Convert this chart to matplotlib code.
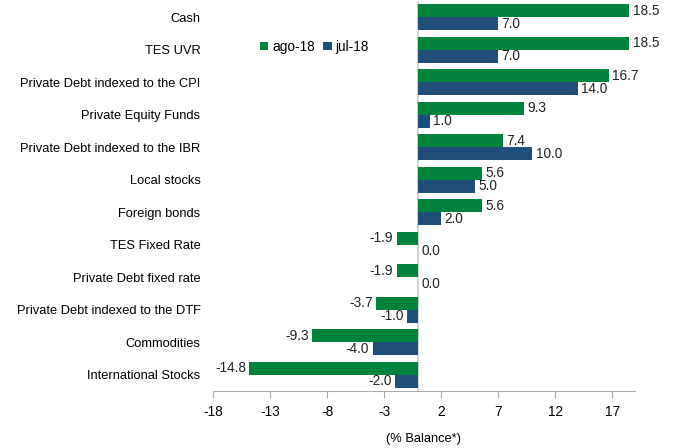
import numpy as np
import matplotlib.pyplot as plt

categories = ['Cash', 'TES UVR', 'Private Debt indexed to the CPI', 'Private Equity Funds',
              'Private Debt indexed to the IBR', 'Local stocks', 'Foreign bonds', 'TES Fixed Rate',
              'Private Debt fixed rate', 'Private Debt indexed to the DTF', 'Commodities',
              'International Stocks']
ago18 = [18.5, 18.5, 16.7, 9.3, 7.4, 5.6, 5.6, -1.9, -1.9, -3.7, -9.3, -14.8]
jul18 = [7.0, 7.0, 14.0, 1.0, 10.0, 5.0, 2.0, 0.0, 0.0, -1.0, -4.0, -2.0]
xticks = [-18, -13, -8, -3, 2, 7, 12, 17]

plt.rcParams['font.family'] = ['Liberation Sans', 'DejaVu Sans']
plt.rcParams['font.size'] = 9.3
plt.rcParams['axes.unicode_minus'] = False

green = '#00843D'
blue = '#1F4E79'

fig = plt.figure(figsize=(6.74, 4.48), dpi=100)
ax = fig.add_axes([0.316, 0.127, 0.626, 0.871])

y = np.arange(len(categories))
h = 0.4
ax.barh(y - h/2, ago18, height=h, color=green, label='ago-18')
ax.barh(y + h/2, jul18, height=h, color=blue, label='jul-18')

for i in range(len(categories)):
    for v, yy in ((ago18[i], y[i] - h/2), (jul18[i], y[i] + h/2)):
        if v >= 0:
            ax.text(v + 0.3, yy, f'{v:.1f}', va='center', ha='left', color='#222222', fontsize=9.8)
        else:
            ax.text(v - 0.3, yy, f'{v:.1f}', va='center', ha='right', color='#222222', fontsize=9.8)

ax.axvline(0, color='#cccccc', lw=1.2, zorder=0)
ax.set_xlim(-18, 19)
ax.set_ylim(len(categories) - 0.5, -0.5)
ax.set_yticks(y)
ax.set_yticklabels(categories)
ax.tick_params(axis='y', length=0, pad=9)
ax.set_xticks(xticks)
ax.tick_params(axis='x', color='#aaaaaa', length=5, pad=5, labelsize=9.8)
for s in ['top', 'right', 'left']:
    ax.spines[s].set_visible(False)
ax.spines['bottom'].set_color('#aaaaaa')
ax.set_xlabel('(% Balance*)', labelpad=10)

ax.legend(loc='upper left', bbox_to_anchor=(0.083, 0.932), ncol=2, frameon=False,
          handlelength=0.6, handleheight=0.6, handletextpad=0.3, columnspacing=0.6,
          fontsize=9.8)

plt.savefig('out.png', dpi=100)
